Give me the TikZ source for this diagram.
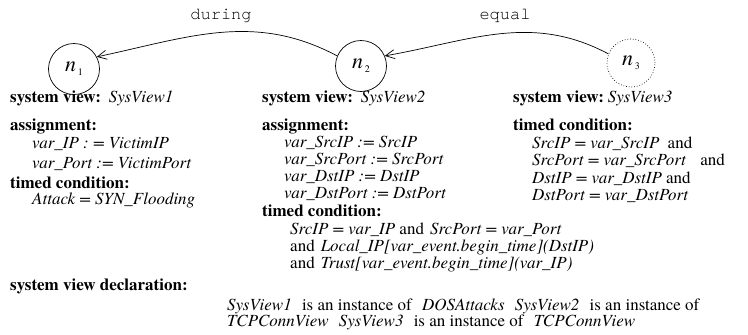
\documentclass[tikz,border=0pt]{standalone}
\usepackage{fontspec}
\setmainfont{texgyretermes}[Extension=.otf, UprightFont=*-regular, BoldFont=*-bold, ItalicFont=*-italic, BoldItalicFont=*-bolditalic]
\setmonofont{texgyrecursor}[Extension=.otf, UprightFont=*-regular, BoldFont=*-bold, ItalicFont=*-italic, BoldItalicFont=*-bolditalic]
\usetikzlibrary{arrows.meta,positioning}
\newcommand{\txtsize}{\fontsize{17}{17}\selectfont}
\newcommand{\stname}[1]{\textit{n}\raisebox{-0.4ex}{\fontsize{10}{10}\selectfont\,#1}}

\begin{document}
\begin{tikzpicture}[x=1pt, y=-1pt, >={Straight Barb[length=9pt,width=9pt]}]
        \tikzset{
            state/.style={draw, circle, minimum size=51pt, inner sep=0pt, line width=0.7pt, font=\fontsize{22}{22}\selectfont},
            txt/.style={anchor=base west, inner sep=0pt, font=\txtsize},
            head/.style={txt, font=\txtsize\bfseries},
            rel/.style={anchor=base, inner sep=0pt, font=\ttfamily\txtsize},
        }
        \useasboundingbox (0,0) rectangle (748,335);

        % States
        \node [state] (n1) at (74,69) {\stname{1}};
        \node [state] (n2) at (361,66) {\stname{2}};
        \node [state, dotted, minimum size=48pt] (n3) at (631,63) {\stname{3}};

        % Relations
        \draw [->, line width=0.7pt] (n2.157) to[out=152, in=12] (n1.28);
        \draw [->, line width=0.7pt] (n3.158) to[out=152, in=10] (n2.23);
        \node [rel] (during) at (221,19) {during};
        \node [rel] (equal) at (505,19) {equal};

        % First view
        \node [head] (sv1) at (10,102) {system view:\hspace{8pt}\mdseries\itshape SysView1};
        \node [head] (as1) at (10,130) {assignment:};
        \node [txt] at (32,148) {\itshape var\_IP : = VictimIP};
        \node [txt] at (32,168) {\itshape var\_Port := VictimPort};
        \node [head] (tc1) at (10,188) {timed condition:};
        \node [txt] at (32,204) {\itshape Attack = SYN\_Flooding};

        % Second view
        \node [head] (sv2) at (262,102) {system view:\hspace{8pt}\mdseries\itshape SysView2};
        \node [head] (as2) at (262,130) {assignment:};
        \node [txt] at (284,147) {\itshape var\_SrcIP := SrcIP};
        \node [txt] at (284,164) {\itshape var\_SrcPort := SrcPort};
        \node [txt] at (284,181) {\itshape var\_DstIP := DstIP};
        \node [txt] at (284,198) {\itshape var\_DstPort := DstPort};
        \node [head] (tc2) at (262,216) {timed condition:};
        \node [txt] at (290,234) {\textit{SrcIP = var\_IP} and\hspace{6pt}\textit{SrcPort = var\_Port}};
        \node [txt] at (290,251) {and\hspace{6pt}\textit{Local\_IP[var\_event.begin\_time](DstIP)}};
        \node [txt] at (290,268) {and\hspace{6pt}\textit{Trust[var\_event.begin\_time](var\_IP)}};

        % Third view
        \node [head] (sv3) at (513,102) {system view:\hspace{4pt}\mdseries\itshape SysView3};
        \node [head] (tc3) at (513,130) {timed condition:};
        \node [txt] at (532,148) {\textit{SrcIP = var\_SrcIP}\hspace{4pt} and};
        \node [txt] at (532,165) {\textit{SrcPort = var\_SrcPort}\hspace{10pt} and};
        \node [txt] at (532,183) {\textit{DstIP = var\_DstIP} and};
        \node [txt] at (532,200) {\textit{DstPort = var\_DstPort}};

        % Declarations
        \node [head] (decl) at (10,290) {system view declaration:};
        \node [txt] at (227,310) {\textit{SysView1}\hspace{6pt} is an instance of\hspace{6pt} \textit{DOSAttacks}\hspace{6pt} \textit{SysView2}\hspace{6pt} is an instance of};
        \node [txt] at (227,326) {\textit{TCPConnView}\hspace{6pt} \textit{SysView3}\hspace{6pt} is an instance of\hspace{6pt} \textit{TCPConnView}};
    \end{tikzpicture}
\end{document}
